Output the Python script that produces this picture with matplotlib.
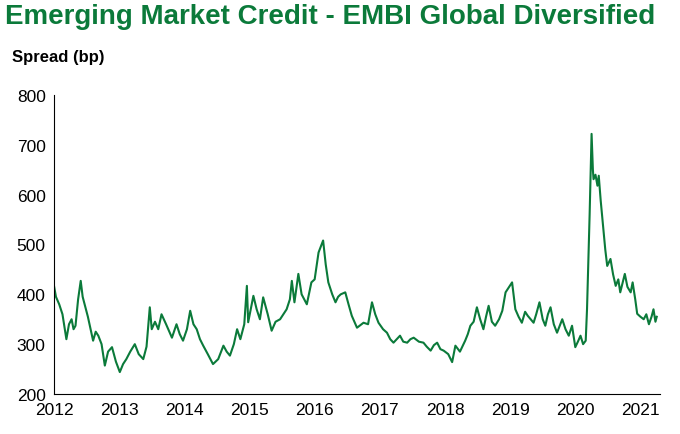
import matplotlib.pyplot as plt

# Spread readings (decimal year, bp)
years = [2012.00, 2012.03, 2012.08, 2012.13, 2012.19, 2012.23, 2012.27, 2012.30, 2012.33, 2012.37,
         2012.41, 2012.44, 2012.48, 2012.52, 2012.55, 2012.60, 2012.64, 2012.68, 2012.73, 2012.78,
         2012.83, 2012.89, 2012.95, 2013.01, 2013.06, 2013.11, 2013.17, 2013.24, 2013.30, 2013.37,
         2013.42, 2013.47, 2013.50, 2013.55, 2013.60, 2013.65, 2013.72, 2013.81, 2013.88, 2013.93,
         2013.98, 2014.04, 2014.09, 2014.14, 2014.19, 2014.24, 2014.29, 2014.36, 2014.44, 2014.52,
         2014.60, 2014.65, 2014.70, 2014.76, 2014.81, 2014.86, 2014.92, 2014.96, 2014.98, 2015.02,
         2015.06, 2015.11, 2015.16, 2015.21, 2015.28, 2015.34, 2015.40, 2015.47, 2015.52, 2015.57,
         2015.62, 2015.65, 2015.69, 2015.75, 2015.80, 2015.88, 2015.95, 2016.00, 2016.06, 2016.13,
         2016.17, 2016.21, 2016.27, 2016.32, 2016.36, 2016.40, 2016.47, 2016.52, 2016.57, 2016.65,
         2016.75, 2016.82, 2016.88, 2016.93, 2016.98, 2017.05, 2017.11, 2017.16, 2017.21, 2017.26,
         2017.31, 2017.36, 2017.42, 2017.47, 2017.52, 2017.60, 2017.67, 2017.72, 2017.78, 2017.83,
         2017.88, 2017.93, 2017.98, 2018.05, 2018.11, 2018.16, 2018.23, 2018.31, 2018.35, 2018.39,
         2018.44, 2018.49, 2018.54, 2018.59, 2018.63, 2018.67, 2018.72, 2018.77, 2018.83, 2018.88,
         2018.93, 2019.03, 2019.08, 2019.13, 2019.18, 2019.23, 2019.27, 2019.36, 2019.40, 2019.45,
         2019.50, 2019.54, 2019.58, 2019.62, 2019.67, 2019.72, 2019.80, 2019.85, 2019.90, 2019.95,
         2020.00, 2020.04, 2020.08, 2020.12, 2020.16, 2020.18, 2020.22, 2020.25, 2020.27, 2020.28,
         2020.31, 2020.34, 2020.36, 2020.39, 2020.43, 2020.46, 2020.49, 2020.54, 2020.58, 2020.62,
         2020.66, 2020.69, 2020.76, 2020.80, 2020.85, 2020.88, 2020.92, 2020.95, 2021.00, 2021.05,
         2021.09, 2021.13, 2021.17, 2021.20, 2021.23, 2021.25]
spread = [417, 395, 380, 360, 310, 340, 350, 330, 337, 390,
          427, 395, 375, 355, 337, 307, 325, 317, 300, 257,
          285, 294, 265, 244, 260, 270, 285, 300, 280, 270,
          295, 374, 330, 345, 330, 360, 340, 313, 340, 320,
          307, 330, 367, 340, 330, 310, 297, 280, 260, 270,
          297, 285, 277, 300, 330, 310, 340, 417, 344, 370,
          397, 370, 350, 394, 360, 327, 345, 350, 360, 370,
          390, 427, 384, 441, 400, 380, 424, 430, 484, 508,
          460, 424, 400, 384, 395, 400, 404, 380, 357, 333,
          343, 340, 384, 360, 343, 330, 323, 310, 303, 310,
          317, 305, 303, 310, 313, 305, 303, 295, 287, 298,
          303, 290, 287, 280, 264, 297, 285, 307, 320, 337,
          345, 374, 350, 330, 355, 377, 345, 337, 350, 367,
          404, 424, 370, 355, 343, 365, 357, 343, 360, 384,
          350, 337, 360, 374, 340, 323, 350, 330, 317, 337,
          294, 305, 317, 300, 307, 370, 560, 722, 650, 631,
          640, 618, 638, 588, 531, 490, 457, 471, 440, 417,
          430, 404, 441, 415, 404, 424, 390, 361, 355, 350,
          360, 340, 355, 370, 345, 355]

green = "#0b7a3a"

fig = plt.figure(figsize=(6.8, 4.35), dpi=100)
ax = fig.add_axes([54 / 680, 1 - 395 / 435, 606 / 680, 299 / 435])
ax.plot(years, spread, color=green, lw=1.5)

ax.set_xlim(2012, 2021.3)
ax.set_ylim(200, 800)
ax.set_xticks(range(2012, 2022))
ax.set_yticks(range(200, 801, 100))
ax.tick_params(length=0, labelsize=12.5, pad=6)
for lab in ax.get_xticklabels() + ax.get_yticklabels():
    lab.set_fontfamily("Liberation Sans")
ax.spines[["top", "right"]].set_visible(False)

fig.text(0.008, 0.99, "Emerging Market Credit - EMBI Global Diversified",
         color=green, fontsize=20, fontweight="bold", family="Liberation Sans",
         va="top", ha="left")
fig.text(0.018, 0.868, "Spread (bp)", fontsize=12, fontweight="bold",
         family="Liberation Sans", va="center", ha="left")

fig.savefig("out.png", dpi=100)
